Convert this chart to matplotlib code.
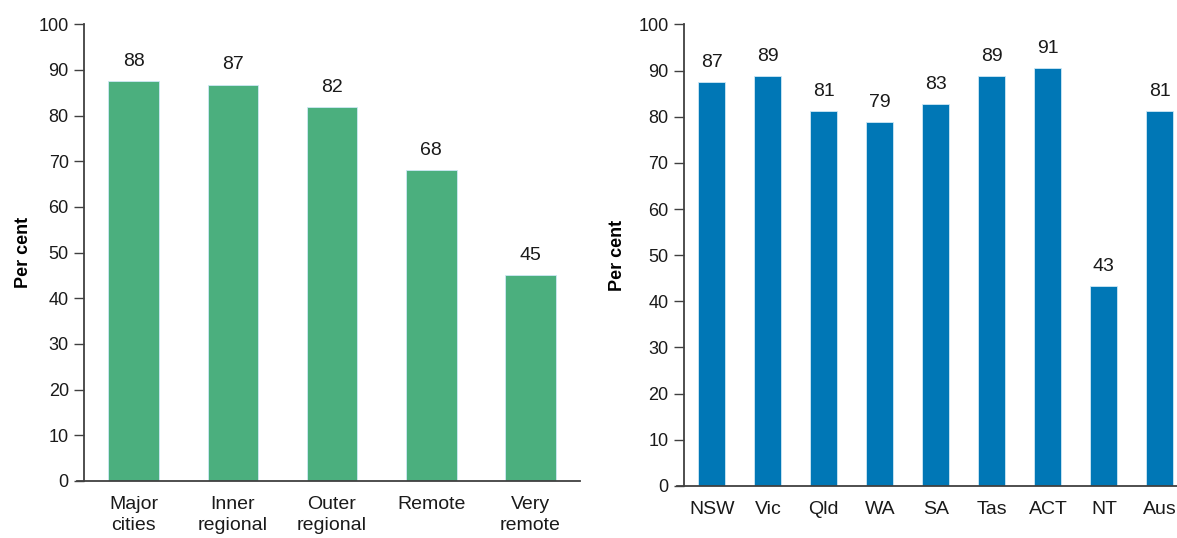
import matplotlib.pyplot as plt
import numpy as np

plt.rcParams['font.family'] = ['Liberation Sans', 'DejaVu Sans']

# Left panel: remoteness
remote_cats = ['Major\ncities', 'Inner\nregional', 'Outer\nregional', 'Remote', 'Very\nremote']
remote_vals = [87.6, 86.8, 81.9, 68.0, 45.0]
remote_labels = ['88', '87', '82', '68', '45']

# Right panel: states
state_cats = ['NSW', 'Vic', 'Qld', 'WA', 'SA', 'Tas', 'ACT', 'NT', 'Aus']
state_vals = [87.5, 88.8, 81.3, 78.9, 82.7, 88.8, 90.6, 43.3, 81.2]
state_labels = ['87', '89', '81', '79', '83', '89', '91', '43', '81']

green = '#4BAF7E'
blue = '#0077B6'
axis_col = '#404040'
txt_col = '#1a1a1a'

fig = plt.figure(figsize=(11.77, 5.38), dpi=100)
ax1 = fig.add_axes([0.0714, 0.106, 0.4214, 0.849])
ax2 = fig.add_axes([0.581, 0.0967, 0.4283, 0.858])

def draw(ax, cats, vals, labels, color, width, ypad):
	x = np.arange(len(cats))
	bars = ax.bar(x, vals, width=width, color=color, edgecolor='#CFE8F5', linewidth=0.6)
	for b, lab in zip(bars, labels):
		ax.annotate(lab, (b.get_x() + b.get_width() / 2, b.get_height()),
			xytext=(0, 8), textcoords='offset points', ha='center', va='bottom',
			fontsize=14, color=txt_col)
	ax.set_xlim(-0.5, len(cats) - 0.5)
	ax.set_ylim(0, 100)
	ax.set_yticks(np.arange(0, 101, 10))
	ax.set_xticks(x)
	ax.set_xticklabels(cats, fontsize=14, color=txt_col, linespacing=1.3)
	ax.tick_params(axis='x', length=0, pad=11)
	ax.tick_params(axis='y', length=7, width=1, color=axis_col, labelsize=13, labelcolor=txt_col, pad=4)
	for s in ['top', 'right']:
		ax.spines[s].set_visible(False)
	for s in ['left', 'bottom']:
		ax.spines[s].set_color(axis_col)
		ax.spines[s].set_linewidth(1.3)
	# bottom axis line runs a little past the y axis, like the tick marks
	bbox = ax.get_position()
	unit_px = bbox.width * fig.get_figwidth() * fig.dpi / len(cats)
	ax.spines['bottom'].set_bounds(-0.5 - 7 / unit_px, len(cats) - 0.5)
	ax.set_ylabel('Per cent', fontsize=13, fontweight='bold', labelpad=ypad)

draw(ax1, remote_cats, remote_vals, remote_labels, green, 0.51, 5)
draw(ax2, state_cats, state_vals, state_labels, blue, 0.48, 9)

fig.savefig('out.png', dpi=100)
